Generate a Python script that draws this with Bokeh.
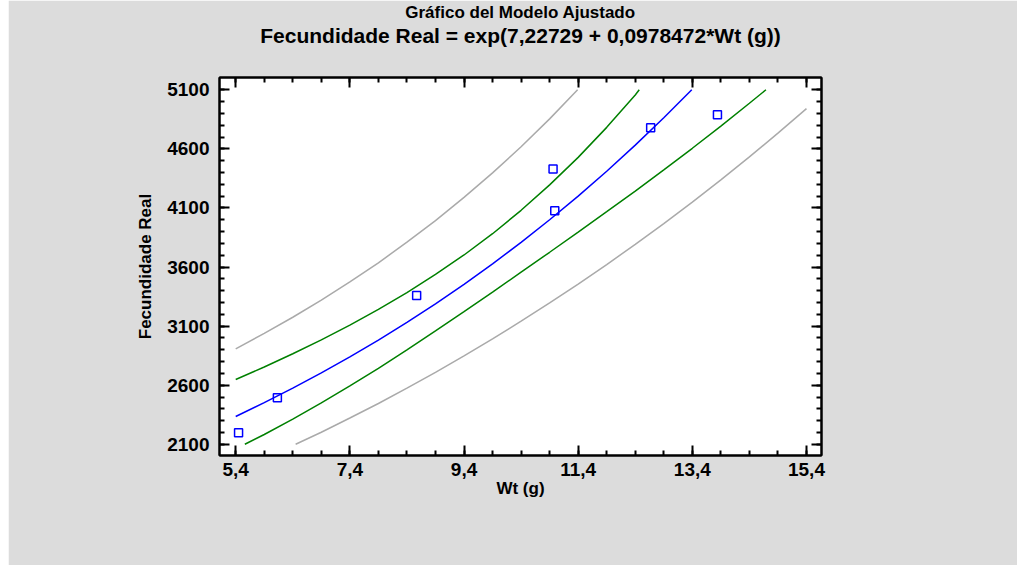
import numpy as np
from bokeh.plotting import figure
from bokeh.models import Title, LinearAxis, FixedTicker, CustomJSTickFormatter
from bokeh.embed import file_html
from bokeh.resources import INLINE

# ---- data ----
title_top = "Gráfico del Modelo Ajustado"
title_main = "Fecundidade Real = exp(7,22729 + 0,0978472*Wt (g))"
x_label = "Wt (g)"
y_label = "Fecundidade Real"

x_ticks = [5.4, 7.4, 9.4, 11.4, 13.4, 15.4]
y_ticks = [2100, 2600, 3100, 3600, 4100, 4600, 5100]

# observed points
obs_x = [5.45, 6.13, 8.57, 10.96, 10.99, 12.67, 13.84]
obs_y = [2198, 2494, 3359, 4429, 4077, 4779, 4889]

# fitted model (blue)
fit_x = [5.4, 5.9, 6.4, 6.9, 7.4, 7.9, 8.4, 8.9, 9.4, 9.9, 10.4, 10.9, 11.4, 11.9, 12.4, 12.9, 13.39]
fit_y = [2335, 2452, 2575, 2704, 2840, 2982, 3132, 3289, 3454, 3627, 3809, 4000, 4200, 4411, 4632, 4864, 5100]

# confidence limits (green)
ci_up_x = [5.4, 5.9, 6.4, 6.9, 7.4, 7.9, 8.4, 8.9, 9.4, 9.9, 10.4, 10.9, 11.4, 11.9, 12.4, 12.47]
ci_up_y = [2648, 2754, 2866, 2984, 3109, 3241, 3384, 3537, 3702, 3882, 4080, 4295, 4528, 4782, 5056, 5100]
ci_lo_x = [5.56, 5.9, 6.4, 6.9, 7.4, 7.9, 8.4, 8.9, 9.4, 9.9, 10.4, 10.9, 11.4, 11.9, 12.4, 12.9, 13.4, 13.9, 14.4, 14.69]
ci_lo_y = [2100, 2183, 2313, 2450, 2594, 2743, 2899, 3059, 3222, 3388, 3556, 3725, 3896, 4068, 4243, 4422, 4605, 4793, 4986, 5100]

# prediction limits (gray)
pi_up_x = [5.4, 5.9, 6.4, 6.9, 7.4, 7.9, 8.4, 8.9, 9.4, 9.9, 10.4, 10.9, 11.39]
pi_up_y = [2908, 3038, 3175, 3320, 3474, 3636, 3810, 3993, 4189, 4397, 4618, 4854, 5100]
pi_lo_x = [6.45, 6.9, 7.4, 7.9, 8.4, 8.9, 9.4, 9.9, 10.4, 10.9, 11.4, 11.9, 12.4, 12.9, 13.4, 13.9, 14.4, 14.9, 15.4]
pi_lo_y = [2100, 2202, 2322, 2445, 2575, 2709, 2848, 2992, 3142, 3296, 3456, 3621, 3792, 3968, 4150, 4338, 4532, 4733, 4941]

FONT = "Liberation Sans"
BG = "#DCDCDC"

p = figure(width=1009, height=565,
           x_range=(5.116, 15.663), y_range=(2005, 5204),
           output_backend="svg", toolbar_location=None,
           min_border_left=211, min_border_right=196,
           min_border_top=77, min_border_bottom=110,
           margin=(0, 0, 0, 8))
p.border_fill_color = BG
p.background_fill_color = "white"
p.outline_line_color = "black"
p.outline_line_width = 2
p.grid.visible = False

# outermost title line
p.title.text = title_top
p.title.align = "center"
p.title.text_font = FONT
p.title.text_font_style = "bold"
p.title.text_font_size = "17px"
p.title.text_color = "black"
p.title.standoff = 0

x_minor = list(np.arange(5.4, 15.41, 0.5))
y_minor = list(np.arange(2100, 5101, 100))
xfmt = CustomJSTickFormatter(code="return tick.toFixed(1).replace('.', ',');")
blank = CustomJSTickFormatter(code="return '';")

def style_axis(ax, size="19px"):
    ax.axis_line_color = "black"
    ax.axis_line_width = 2
    ax.major_tick_in = 10
    ax.major_tick_out = 0
    ax.minor_tick_in = 5
    ax.minor_tick_out = 0
    ax.major_tick_line_width = 2
    ax.minor_tick_line_width = 2
    ax.major_tick_line_color = "black"
    ax.minor_tick_line_color = "black"
    ax.major_label_text_font = FONT
    ax.major_label_text_font_style = "bold"
    ax.major_label_text_font_size = size
    ax.major_label_text_color = "black"
    ax.axis_label_text_font = FONT
    ax.axis_label_text_font_style = "bold"
    ax.axis_label_text_font_size = "17px"
    ax.axis_label_text_color = "black"

xa = p.xaxis[0]
xa.ticker = FixedTicker(ticks=x_ticks, minor_ticks=x_minor)
xa.formatter = xfmt
xa.axis_label = x_label
xa.major_label_standoff = 7
xa.axis_label_standoff = 0
style_axis(xa)

ya = p.yaxis[0]
ya.ticker = FixedTicker(ticks=y_ticks, minor_ticks=y_minor)
ya.axis_label = y_label
ya.major_label_standoff = 10
ya.axis_label_standoff = 9
ya.major_label_orientation = "horizontal"
style_axis(ya)

# mirrored ticks on top and right
top_ax = LinearAxis(ticker=FixedTicker(ticks=x_ticks, minor_ticks=x_minor), formatter=blank)
style_axis(top_ax)
top_ax.major_label_standoff = 0
p.add_layout(top_ax, "above")
right_ax = LinearAxis(ticker=FixedTicker(ticks=y_ticks, minor_ticks=y_minor), formatter=blank)
style_axis(right_ax)
right_ax.major_label_standoff = 0
p.add_layout(right_ax, "right")

# invisible spacer axis to lift the title lines
spacer = LinearAxis(ticker=FixedTicker(ticks=x_ticks, minor_ticks=[]), formatter=blank,
                    axis_line_color=None, major_tick_line_color=None,
                    minor_tick_line_color=None, major_tick_in=0, major_tick_out=31,
                    minor_tick_in=0, minor_tick_out=0, major_label_standoff=0)
p.add_layout(spacer, "above")

# main title line
main_title = Title(text=title_main, align="center",
                   text_font=FONT, text_font_style="bold", text_font_size="21px",
                   text_color="black", standoff=0)
p.add_layout(main_title, "above")

# bands and fit
p.line(pi_up_x, pi_up_y, line_color="#AAAAAA", line_width=1.5)
p.line(pi_lo_x, pi_lo_y, line_color="#AAAAAA", line_width=1.5)
p.line(ci_up_x, ci_up_y, line_color="#008000", line_width=1.5)
p.line(ci_lo_x, ci_lo_y, line_color="#008000", line_width=1.5)
p.line(fit_x, fit_y, line_color="#0000FF", line_width=1.5)
p.scatter(obs_x, obs_y, marker="square", size=8, fill_color=None,
          line_color="#0000FF", line_width=1.5)

open("out.html", "w").write(file_html(p, INLINE))
